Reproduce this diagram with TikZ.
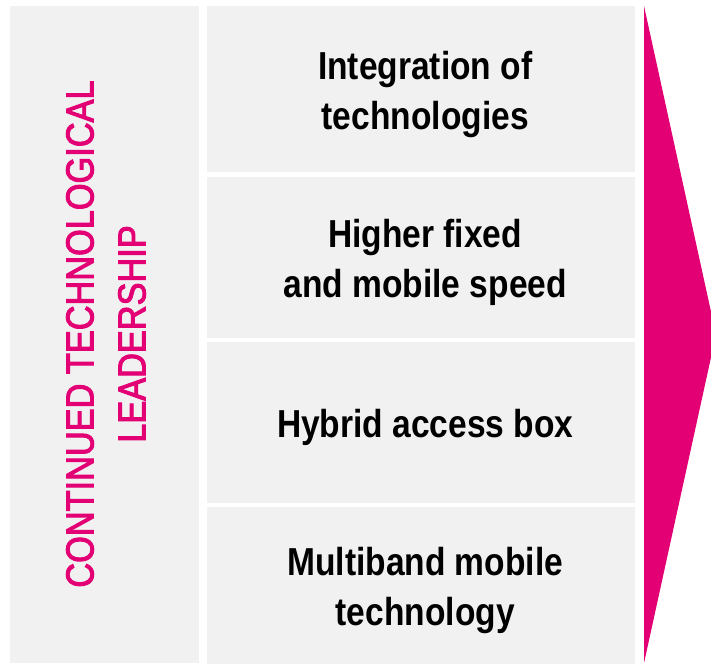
\documentclass[tikz,border=0pt]{standalone}
\usepackage{fontspec}
\usetikzlibrary{positioning}
\setmainfont{Liberation Sans}
\newfontfamily\boxfont[FakeStretch=0.86]{Liberation Sans}
\newfontfamily\sidefont[FakeStretch=0.88,FakeBold=2.5]{Liberation Sans}
\definecolor{tmagenta}{HTML}{E20074}
\definecolor{panelgray}{HTML}{F1F1F1}
\tikzset{
 panel/.style={fill=panelgray, inner sep=0, anchor=north west},
 item/.style={panel, minimum width=428pt},
 itemtext/.style={align=center, text=black, inner sep=0, xshift=4pt, yshift=-5pt,
   font=\boxfont\fontsize{39}{50}\selectfont\bfseries},
 sidelabel/.style={rotate=90, align=center, text=tmagenta,
   font=\sidefont\fontsize{39}{52}\selectfont},
}

\begin{document}
\begin{tikzpicture}[x=1pt,y=-1pt]
\useasboundingbox (0,0) rectangle (711,663);
\node[panel, minimum width=189pt, minimum height=657pt] (side) at (10,6) {};
\node[sidelabel] (sidetext) at (106,334) {CONTINUED TECHNOLOGICAL\\LEADERSHIP};
\node[item, minimum height=166pt] (integ) at (207,6) {};
\node[item, minimum height=161pt, below=4pt of integ] (speed) {};
\node[item, minimum height=161pt, below=4pt of speed] (hybrid) {};
\node[item, minimum height=157pt, below=4pt of hybrid] (multi) {};
\node[itemtext] (integtext) at (integ.center) {Integration of\\technologies};
\node[itemtext] (speedtext) at (speed.center) {Higher fixed\\and mobile speed};
\node[itemtext] (hybridtext) at (hybrid.center) {Hybrid access box};
\node[itemtext] (multitext) at (multi.center) {Multiband mobile\\technology};
\begin{scope}
\clip (0,0) rectangle (711,663);
\fill[tmagenta] (644,6) -- (716,334.5) -- (644,663) -- cycle;
\end{scope}
\end{tikzpicture}
\end{document}
